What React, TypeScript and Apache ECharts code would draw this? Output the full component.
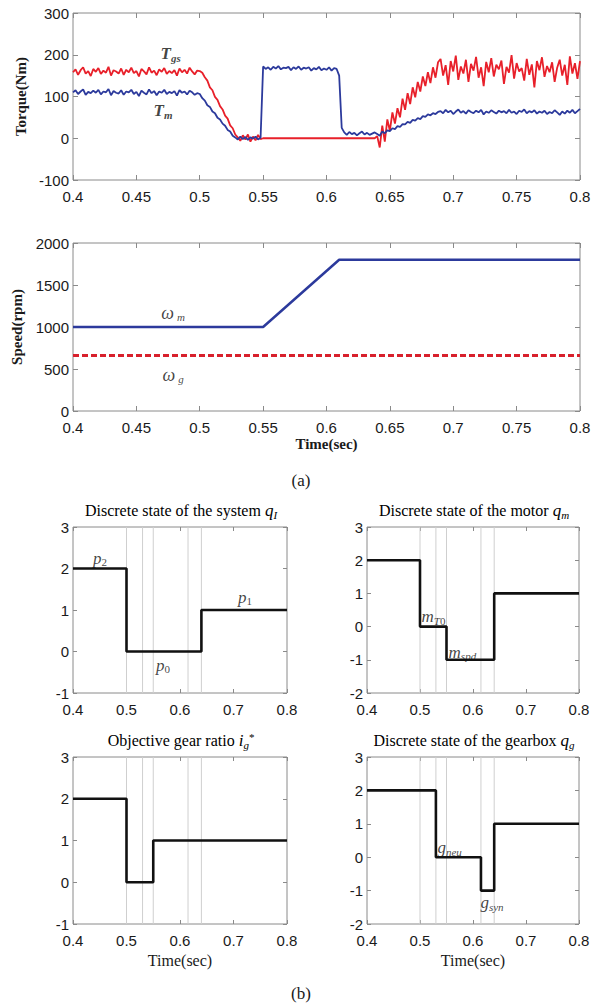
import React, { useEffect, useRef } from "react";
import * as echarts from "echarts";

const SANS = "'Liberation Sans', Arial, sans-serif";
const SERIF = "'Liberation Serif', 'Times New Roman', serif";

// ---------- torque (sampled every 2 ms from 0.400 s) ----------
const torqueStart = 0.4;
const torqueStep = 0.002;
// T_gs (red)
const shaftTorque = [
  158, 165, 152, 163, 170, 155, 161, 149, 166, 159,
  168, 154, 162, 157, 171, 150, 163, 160, 155, 167,
  152, 164, 158, 169, 156, 161, 148, 166, 160, 153,
  170, 157, 162, 151, 165, 159, 168, 154, 161, 156,
  163, 150, 167, 158, 164, 155, 169, 160, 153, 162,
  161, 157, 146, 138, 122, 115, 99, 92, 77, 69, 54, 47, 31, 24, 9, 2,
  -6, 7, -3, 9, -8, 4, -5, 8, -2,
  0, 0, 0, 0, 0, 0, 0, 0, 0, 0, 0, 0, 0, 0, 0,
  0, 0, 0, 0, 0, 0, 0, 0, 0, 0, 0, 0, 0, 0, 0,
  0, 0, 0, 0, 0, 0, 0, 0, 0, 0, 0, 0, 0, 0, 0,
  5, -22, 30, -8, 45, 18, 62, 35, 72, 50, 95, 68, 108, 82, 122, 98, 135, 112, 148, 125, 158, 132, 170, 145, 182,
  190, 150, 175, 128, 185, 160, 198, 140, 172, 155,
  188, 135, 178, 162, 195, 145, 170, 125, 183, 158,
  192, 148, 176, 165, 186, 130, 171, 157, 199, 143,
  180, 160, 168, 138, 190, 152, 177, 122, 185, 163,
  194, 147, 173, 158, 182, 135, 169, 188, 150, 176,
  128, 196, 155, 180, 142, 185,
];
// T_m (blue)
const motorTorque = [
  110, 115, 106, 112, 117, 104, 111, 108, 114, 109,
  116, 105, 112, 110, 118, 103, 113, 109, 107, 115,
  104, 112, 110, 116, 106, 111, 101, 114, 109, 105,
  117, 108, 113, 103, 112, 109, 116, 106, 111, 108,
  113, 102, 115, 109, 112, 105, 114, 110, 104, 108,
  106, 96, 90, 79, 75, 64, 60, 49, 45, 35, 30, 20, 16, 6, 2,
  -3, 4, -2, 3, -4, 2, -1, 4, -3, 1,
  172, 166, 170, 164, 171, 167, 173, 165, 169, 168,
  171, 163, 170, 166, 172, 164, 169, 167, 170, 162,
  168, 165, 171, 163, 167, 164, 170, 162, 168, 166,
  150, 25,
  14, 8, 15, 10, 13, 7, 12, 16, 9, 13, 8, 11, 14,
  10, 6, 16, 12, 19, 17, 24, 22, 29, 27, 34, 33, 39, 37, 44, 42, 48, 46, 53, 51, 57, 55, 60, 58, 63,
  65, 60, 68, 62, 66, 58, 64, 69, 61, 65,
  59, 67, 63, 60, 66, 62, 68, 57, 64, 61,
  67, 63, 59, 66, 62, 65, 60, 68, 61, 64,
  58, 66, 63, 69, 60, 65, 62, 67, 59, 64,
  61, 66, 58, 63, 60, 67, 62, 56, 64, 59,
  66, 61, 68, 60, 65, 70,
];

// ---------- speed ----------
const motorSpeedTime = [0.4, 0.55, 0.61, 0.8];
const motorSpeed = [1000, 1000, 1800, 1800];
const gearSpeedTime = [0.4, 0.8];
const gearSpeed = [660, 660];

// ---------- discrete states ----------
const systemStateTime = [0.4, 0.5, 0.64, 0.8];
const systemState = [2, 0, 1, 1];
const motorStateTime = [0.4, 0.5, 0.55, 0.64, 0.8];
const motorState = [2, 0, -1, 1, 1];
const gearRatioTime = [0.4, 0.5, 0.55, 0.8];
const gearRatio = [2, 0, 1, 1];
const gearboxStateTime = [0.4, 0.53, 0.615, 0.64, 0.8];
const gearboxState = [2, 0, -1, 1, 1];
const switchTimes = [0.5, 0.53, 0.55, 0.615, 0.64];

// ---------- panel axes ----------
const panels = [
  { xMin: 0.4, xMax: 0.8, xStep: 0.05, yMin: -100, yMax: 300, yStep: 100, yName: "Torque(Nm)", xName: "" },
  { xMin: 0.4, xMax: 0.8, xStep: 0.05, yMin: 0, yMax: 2000, yStep: 500, yName: "Speed(rpm)", xName: "Time(sec)" },
  { xMin: 0.4, xMax: 0.8, xStep: 0.1, yMin: -1, yMax: 3, yStep: 1, yName: "", xName: "" },
  { xMin: 0.4, xMax: 0.8, xStep: 0.1, yMin: -2, yMax: 3, yStep: 1, yName: "", xName: "" },
  { xMin: 0.4, xMax: 0.8, xStep: 0.1, yMin: -1, yMax: 3, yStep: 1, yName: "", xName: "Time(sec)" },
  { xMin: 0.4, xMax: 0.8, xStep: 0.1, yMin: -2, yMax: 3, yStep: 1, yName: "", xName: "Time(sec)" },
];

const gridBoxes = [
  { left: 73, top: 13, width: 507, height: 167 },
  { left: 73, top: 243, width: 507, height: 168 },
  { left: 73, top: 527, width: 214, height: 166 },
  { left: 367, top: 527, width: 212, height: 166 },
  { left: 73, top: 757, width: 214, height: 167 },
  { left: 367, top: 757, width: 212, height: 167 },
];

// annotation anchors in data coordinates
const annotations = [
  { grid: 0, x: 0.477, y: 204, text: "{b|T}{bs|gs}", pos: "inside" },
  { grid: 0, x: 0.471, y: 66, text: "{b|T}{bs|m}", pos: "inside" },
  { grid: 1, x: 0.479, y: 1167, text: "{w|ω}{ws|m}", pos: "inside" },
  { grid: 1, x: 0.479, y: 429, text: "{w|ω}{ws|g}", pos: "inside" },
  { grid: 2, x: 0.4505, y: 2.25, text: "{v|p}{n|2}", pos: "inside" },
  { grid: 2, x: 0.568, y: -0.33, text: "{v|p}{n|0}", pos: "inside" },
  { grid: 2, x: 0.7215, y: 1.31, text: "{v|p}{n|1}", pos: "inside" },
  { grid: 3, x: 0.502, y: 0.29, text: "{v|m}{s|T}{n|0}", pos: "right" },
  { grid: 3, x: 0.553, y: -0.77, text: "{v|m}{s|spd}", pos: "right" },
  { grid: 5, x: 0.532, y: 0.28, text: "{v|g}{s|neu}", pos: "right" },
  { grid: 5, x: 0.613, y: -1.37, text: "{v|g}{s|syn}", pos: "right" },
];

const titles = [
  { grid: 2, text: "{t|Discrete state of the system }{v|q}{s|I}" },
  { grid: 3, text: "{t|Discrete state of the motor }{v|q}{s|m}" },
  { grid: 4, text: "{t|Objective gear ratio }{v|i}{s|g}{sup|*}" },
  { grid: 5, text: "{t|Discrete state of the gearbox }{v|q}{s|g}" },
];

const RED = "#e8202a";
const BLUE = "#2c3a9c";

const richStyles: any = {
  b: { fontFamily: SERIF, fontStyle: "italic", fontWeight: "bold", fontSize: 17, lineHeight: 20, color: "#111" },
  bs: { fontFamily: SERIF, fontStyle: "italic", fontWeight: "bold", fontSize: 11, lineHeight: 11, verticalAlign: "bottom", color: "#111" },
  w: { fontFamily: SERIF, fontStyle: "italic", fontSize: 18, lineHeight: 20, color: "#111" },
  ws: { fontFamily: SERIF, fontStyle: "italic", fontSize: 11, lineHeight: 11, verticalAlign: "bottom", padding: [0, 0, 0, 3], color: "#111" },
  v: { fontFamily: SERIF, fontStyle: "italic", fontSize: 17, lineHeight: 19, color: "#111" },
  s: { fontFamily: SERIF, fontStyle: "italic", fontSize: 11, lineHeight: 11, verticalAlign: "bottom", color: "#111" },
  n: { fontFamily: SERIF, fontSize: 11, lineHeight: 11, verticalAlign: "bottom", color: "#111" },
  t: { fontFamily: SERIF, fontSize: 16, lineHeight: 19, color: "#1a1a1a" },
  sup: { fontFamily: SERIF, fontSize: 11, lineHeight: 11, verticalAlign: "top", color: "#111" },
};

function pairs(xs: number[], ys: number[]) {
  return xs.map((x, i) => [x, ys[i]]);
}
function sampled(values: number[]) {
  return values.map((v, i) => [+(torqueStart + i * torqueStep).toFixed(3), v]);
}

function buildOption() {
  const xAxis: any[] = [];
  const yAxis: any[] = [];
  const series: any[] = [];

  panels.forEach((p, g) => {
    const tick = { show: true, inside: true, length: g < 2 ? 5 : 4, lineStyle: { color: "#8a8a8a", width: 1 } };
    const label = { color: "#1a1a1a", fontSize: 15, fontFamily: SANS, formatter: (v: number) => String(v) };
    const top = g < 2;
    xAxis.push({
      type: "value", gridIndex: g, min: p.xMin, max: p.xMax, interval: p.xStep, position: "bottom",
      axisLine: { show: false, onZero: false }, axisTick: tick, splitLine: { show: false },
      axisLabel: { ...label, margin: 9 },
      name: p.xName, nameLocation: "middle", nameGap: top ? 25 : 28,
      nameTextStyle: { fontFamily: SERIF, fontSize: top ? 15 : 16, fontWeight: top ? "bold" : "normal", color: "#1a1a1a" },
    });
    xAxis.push({
      type: "value", gridIndex: g, min: p.xMin, max: p.xMax, interval: p.xStep, position: "top",
      axisLine: { show: false, onZero: false }, axisTick: tick, splitLine: { show: false }, axisLabel: { show: false },
    });
    yAxis.push({
      type: "value", gridIndex: g, min: p.yMin, max: p.yMax, interval: p.yStep, position: "left",
      axisLine: { show: false, onZero: false }, axisTick: tick, splitLine: { show: false },
      axisLabel: { ...label, margin: 4 },
      name: p.yName, nameLocation: "middle", nameGap: 44,
      nameTextStyle: { fontFamily: SERIF, fontSize: 15, fontWeight: "bold", color: "#1a1a1a" },
    });
    yAxis.push({
      type: "value", gridIndex: g, min: p.yMin, max: p.yMax, interval: p.yStep, position: "right",
      axisLine: { show: false, onZero: false }, axisTick: tick, splitLine: { show: false }, axisLabel: { show: false },
    });
  });

  const ax = (g: number) => ({ xAxisIndex: 2 * g, yAxisIndex: 2 * g });

  // torque
  series.push({ type: "line", name: "Tgs", ...ax(0), data: sampled(shaftTorque), showSymbol: false, symbol: "none",
    lineStyle: { color: RED, width: 1.8 }, z: 2 });
  series.push({ type: "line", name: "Tm", ...ax(0), data: sampled(motorTorque), showSymbol: false, symbol: "none",
    lineStyle: { color: BLUE, width: 1.8 }, z: 3 });

  // speed
  series.push({ type: "line", name: "wm", ...ax(1), data: pairs(motorSpeedTime, motorSpeed), symbol: "none",
    lineStyle: { color: BLUE, width: 2.5 }, z: 3 });
  series.push({ type: "line", name: "wg", ...ax(1), data: pairs(gearSpeedTime, gearSpeed), symbol: "none",
    lineStyle: { color: "#d8202c", width: 3, type: [6, 3] }, z: 3 });

  // discrete states
  const steps: [number, number[], number[]][] = [
    [2, systemStateTime, systemState],
    [3, motorStateTime, motorState],
    [4, gearRatioTime, gearRatio],
    [5, gearboxStateTime, gearboxState],
  ];
  steps.forEach(([g, xs, ys]) => {
    const p = panels[g];
    switchTimes.forEach((t) => {
      series.push({ type: "line", ...ax(g), data: [[t, p.yMin], [t, p.yMax]], symbol: "none", silent: true,
        lineStyle: { color: "#cfcfcf", width: 1 }, z: 1 });
    });
    series.push({ type: "line", ...ax(g), data: pairs(xs, ys), step: "end", symbol: "none",
      lineStyle: { color: "#111", width: 2.6 }, z: 3 });
  });

  // annotations
  annotations.forEach((a) => {
    series.push({
      type: "scatter", ...ax(a.grid), data: [[a.x, a.y]], symbolSize: 1, silent: true, z: 10,
      itemStyle: { color: "rgba(0,0,0,0)" },
      label: { show: true, position: a.pos, distance: 0, formatter: a.text, rich: richStyles },
    });
  });

  const graphic: any[] = [];
  titles.forEach((t) => {
    const b = gridBoxes[t.grid];
    graphic.push({
      type: "text", x: b.left + b.width / 2 + 1, y: b.top - 7,
      style: { text: t.text, rich: richStyles, align: "center", verticalAlign: "bottom" },
    });
  });
  graphic.push({ type: "text", x: 301, y: 480, style: { text: "(a)", font: `17px ${SERIF}`, fill: "#1a1a1a", align: "center", verticalAlign: "middle" } });
  graphic.push({ type: "text", x: 301, y: 993, style: { text: "(b)", font: `17px ${SERIF}`, fill: "#1a1a1a", align: "center", verticalAlign: "middle" } });

  return {
    animation: false,
    backgroundColor: "#fff",
    grid: gridBoxes.map((b) => ({ ...b, show: true, borderColor: "#8a8a8a", borderWidth: 1, backgroundColor: "#fff" })),
    xAxis,
    yAxis,
    series,
    graphic,
  };
}

export default function App() {
  const ref = useRef<HTMLDivElement>(null);
  useEffect(() => {
    const chart = echarts.init(ref.current!, undefined, { renderer: "svg" });
    chart.setOption(buildOption() as any);
    return () => chart.dispose();
  }, []);
  return (
    <div
      ref={ref}
      style={{ position: "absolute", left: 0, top: 0, width: 605, height: 1006, background: "#fff" }}
    />
  );
}
